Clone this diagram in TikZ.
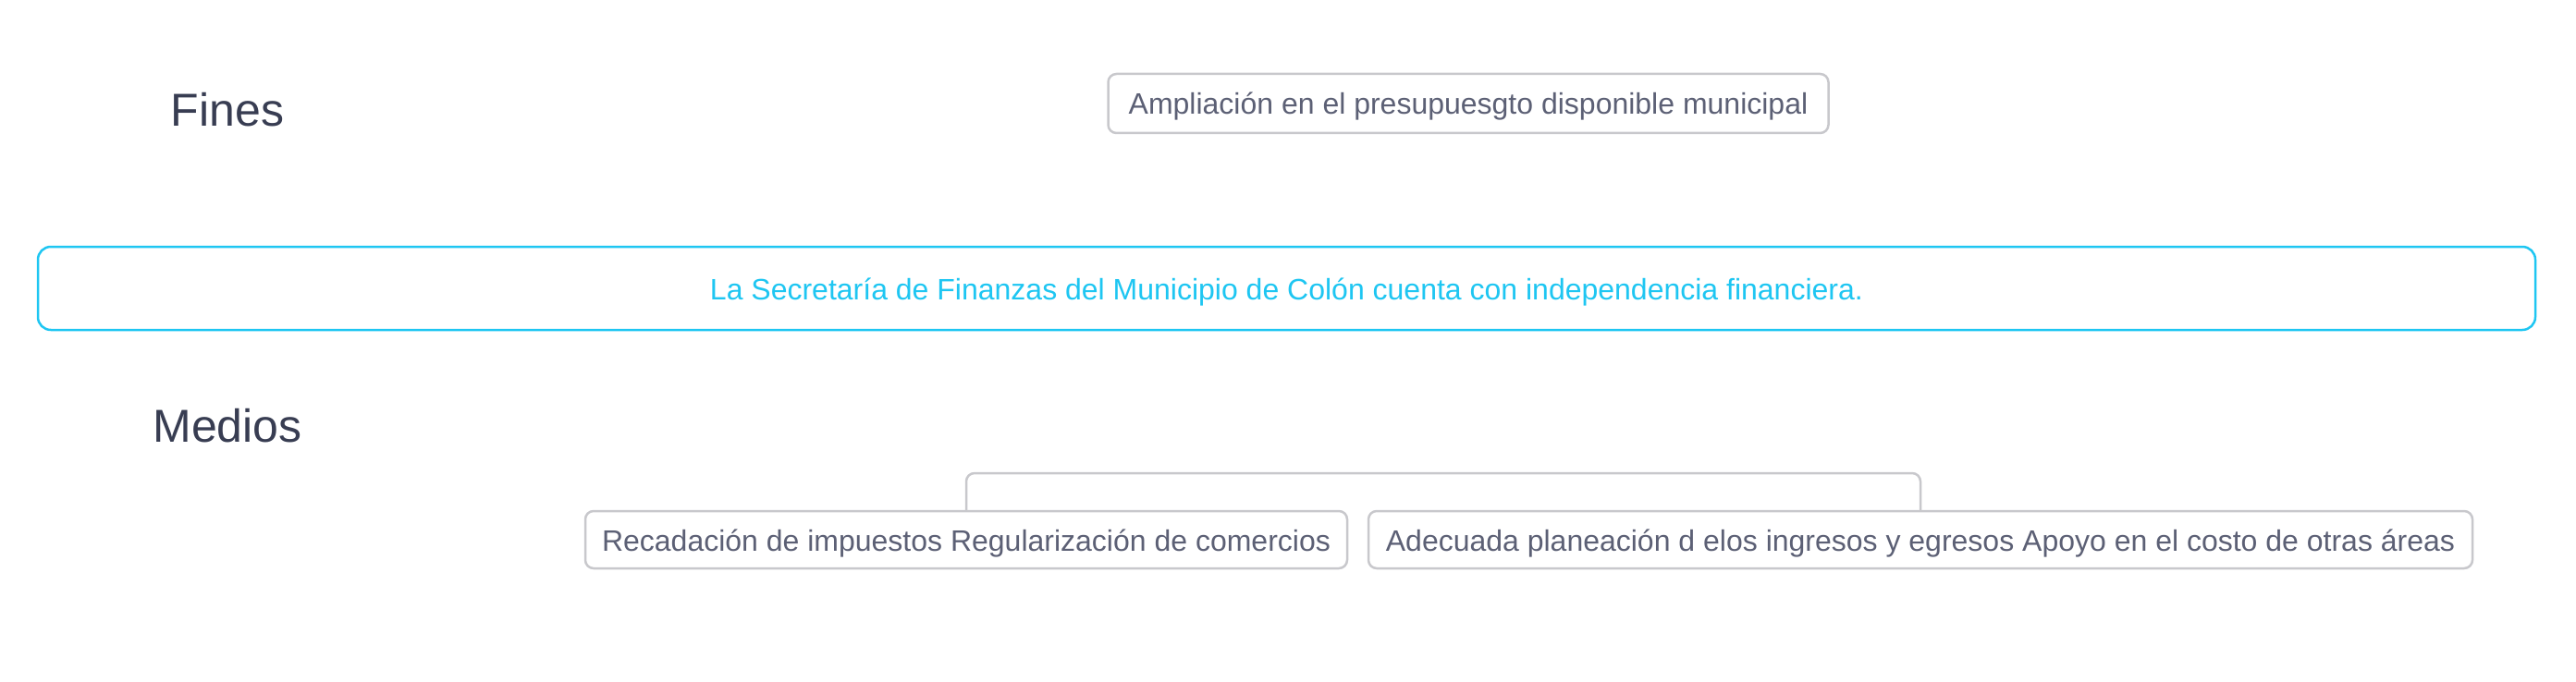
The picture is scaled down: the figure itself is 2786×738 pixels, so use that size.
\documentclass[tikz,border=0pt]{standalone}
\usepackage{fontspec}
\setmainfont{Liberation Sans}
\definecolor{boxgray}{HTML}{C8C8CC}
\definecolor{txtgray}{HTML}{5C6075}
\definecolor{cyanb}{HTML}{1EC6F2}
\definecolor{navy}{HTML}{383D52}
\tikzset{
  itembox/.style={draw=boxgray, line width=2.5pt, rounded corners=9pt, fill=white,
    text=txtgray, font=\fontsize{32}{36}\selectfont, inner sep=0pt, anchor=center,
    text height=27pt, text depth=3pt},
  mainbox/.style={draw=cyanb, line width=2.5pt, rounded corners=14pt, fill=white,
    text=cyanb, font=\fontsize{32}{36}\selectfont, inner sep=0pt, anchor=center,
    text height=27pt, text depth=3pt},
  header/.style={text=navy, font=\fontsize{50}{56}\selectfont, inner sep=0pt, anchor=center},
  bracket/.style={draw=boxgray, line width=2.5pt, rounded corners=9pt}
}
\begin{document}
\begin{tikzpicture}[x=1pt,y=-1pt]
\useasboundingbox (0,0) rectangle (2786,738);
\node[header] (fines) at (246,119) {Fines};
\node[header] (medios) at (246,461) {Medios};
\node[itembox, minimum width=779pt, minimum height=64pt] (fin1) at (1588,112) {Ampliación en el presupuesgto disponible municipal};
\node[mainbox, minimum width=2701pt, minimum height=90pt] (prop) at (1391.5,312) {La Secretaría de Finanzas del Municipio de Colón cuenta con independencia financiera.};
\node[itembox, minimum width=824pt, minimum height=62pt] (m1) at (1045,584) {Recadación de impuestos Regularización de comercios};
\node[itembox, minimum width=1194pt, minimum height=62pt] (m2) at (2077,584) {Adecuada planeación d elos ingresos y egresos Apoyo en el costo de otras áreas};
\coordinate (top) at (0,512);
\draw[bracket] (m1.north) -- (m1.north |- top) -- (m2.north |- top) -- (m2.north);
\end{tikzpicture}
\end{document}
